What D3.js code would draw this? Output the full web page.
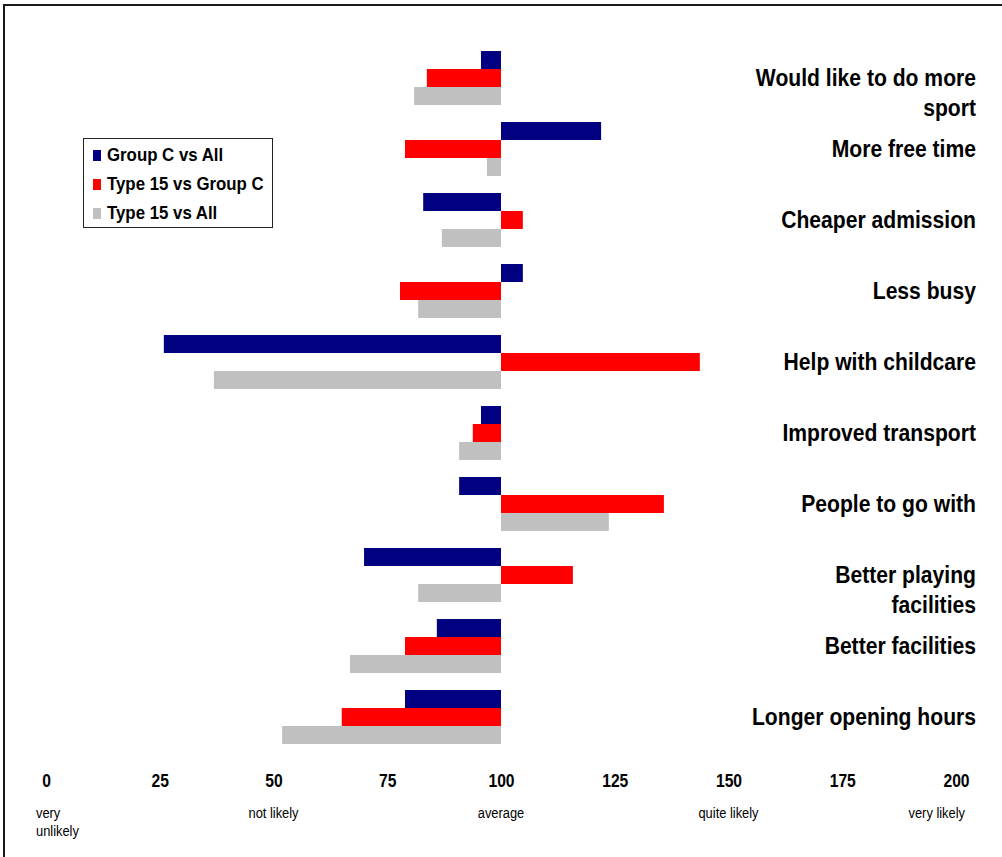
<!DOCTYPE html>
<html lang="en">
<head>
  <meta charset="UTF-8">
  <title>Reasons to do more sport</title>
  <script src="https://cdn.jsdelivr.net/npm/d3@7"></script>
  <style>
    body { margin: 0; background: #fff; }
    svg text { font-family: "Liberation Sans", Arial, sans-serif; fill: #000; }
    .cat { font-size: 22px; font-weight: bold; }
    .tick-lbl { font-size: 18px; font-weight: bold; }
    .note { font-size: 14px; }
    .legend text { font-size: 17px; font-weight: bold; }
  </style>
</head>
<body>
  <svg width="1002" height="857"></svg>
  <script>
    // categories, top to bottom
    var categories = [
      'Would like to do more sport',
      'More free time',
      'Cheaper admission',
      'Less busy',
      'Help with childcare',
      'Improved transport',
      'People to go with',
      'Better playing facilities',
      'Better facilities',
      'Longer opening hours'
    ];
    // wrapped label lines (same order)
    var catLines = [
      ['Would like to do more', 'sport'],
      ['More free time'],
      ['Cheaper admission'],
      ['Less busy'],
      ['Help with childcare'],
      ['Improved transport'],
      ['People to go with'],
      ['Better playing', 'facilities'],
      ['Better facilities'],
      ['Longer opening hours']
    ];
    var seriesNames = ['Group C vs All', 'Type 15 vs Group C', 'Type 15 vs All'];
    var groupCvsAll   = [95.6, 122, 82.9, 104.8, 25.9, 95.6, 90.8, 69.9, 85.9, 78.9];
    var type15vsGroupC = [83.7, 78.9, 104.8, 77.8, 143.7, 93.8, 135.8, 115.8, 78.9, 65];
    var type15vsAll   = [80.9, 96.9, 87, 81.8, 36.9, 90.8, 123.7, 81.8, 66.8, 51.9];
    var tickValues = [0, 25, 50, 75, 100, 125, 150, 175, 200];
    var noteValues = [0, 50, 100, 150, 200];
    var noteTexts = [['very', 'unlikely'], ['not likely'], ['average'], ['quite likely'], ['very likely']];

    var colors = ['#000080', '#ff0000', '#c0c0c0'];
    var seriesValues = [groupCvsAll, type15vsGroupC, type15vsAll];

    var svg = d3.select('svg');

    // outer frame (right and bottom edges run off the picture)
    svg.append('rect')
      .attr('x', 4).attr('y', 5)
      .attr('width', 1010).attr('height', 870)
      .attr('fill', 'none')
      .attr('stroke', '#1a1a1a')
      .attr('stroke-width', 2);

    var xScale = d3.scaleLinear().domain([0, 200]).range([46, 956]);
    var yScale = d3.scaleBand()
      .domain(categories)
      .range([42.5, 752.5])
      .paddingInner(0.24)
      .paddingOuter(0.12);
    var ySub = d3.scaleBand()
      .domain(seriesNames)
      .range([0, yScale.bandwidth()]);

    var data = categories.map(function(c, i) {
      return {
        cat: c,
        lines: catLines[i],
        values: seriesNames.map(function(s, j) {
          return {key: s, color: colors[j], value: seriesValues[j][i]};
        })
      };
    });

    var group = svg.selectAll('.group')
      .data(data)
      .enter()
      .append('g')
      .attr('class', 'group')
      .attr('transform', function(d) { return 'translate(0,' + yScale(d.cat) + ')'; });

    group.selectAll('rect')
      .data(function(d) { return d.values; })
      .enter()
      .append('rect')
      .attr('x', function(d) { return Math.min(xScale(100), xScale(d.value)); })
      .attr('y', function(d) { return ySub(d.key); })
      .attr('width', function(d) { return Math.abs(xScale(d.value) - xScale(100)); })
      .attr('height', ySub.bandwidth())
      .attr('fill', function(d) { return d.color; });

    // category labels on the right, slightly condensed like the original
    var label = group.append('g')
      .attr('transform', 'translate(976,' + (yScale.bandwidth() / 2 + 8) + ') scale(0.96,1.05)');
    label.selectAll('text')
      .data(function(d) { return d.lines; })
      .enter()
      .append('text')
      .attr('class', 'cat')
      .attr('text-anchor', 'end')
      .attr('y', function(d, i) { return i * 29; })
      .text(function(d) { return d; });

    // x axis: labels only
    var axis = svg.append('g')
      .attr('transform', 'translate(0,774)')
      .call(d3.axisBottom(xScale).tickValues(tickValues).tickSize(0).tickPadding(0));
    axis.select('.domain').remove();
    axis.selectAll('.tick text')
      .attr('class', 'tick-lbl')
      .attr('font-family', null)
      .attr('font-size', null)
      .attr('fill', '#000')
      .attr('transform', 'scale(0.87,1.05)');

    // scale notes under the axis
    var note = svg.selectAll('.note-g')
      .data(noteValues)
      .enter()
      .append('g')
      .attr('class', 'note-g')
      .attr('transform', function(d, i) {
        var x = xScale(d);
        if (i === 0) x -= 10;
        if (i === noteValues.length - 1) x += 9;
        return 'translate(' + x + ',818) scale(0.92,1)';
      });
    note.selectAll('text')
      .data(function(d, i) {
        return noteTexts[i].map(function(t) {
          return {t: t, anchor: i === 0 ? 'start' : (i === noteValues.length - 1 ? 'end' : 'middle')};
        });
      })
      .enter()
      .append('text')
      .attr('class', 'note')
      .attr('text-anchor', function(d) { return d.anchor; })
      .attr('y', function(d, i) { return i * 18; })
      .text(function(d) { return d.t; });

    // legend
    var legend = svg.append('g').attr('class', 'legend');
    legend.append('rect')
      .attr('x', 83.5).attr('y', 138.5)
      .attr('width', 189).attr('height', 89)
      .attr('fill', '#fff')
      .attr('stroke', '#222')
      .attr('stroke-width', 1);
    var item = legend.selectAll('.item')
      .data(seriesNames)
      .enter()
      .append('g')
      .attr('class', 'item')
      .attr('transform', function(d, i) { return 'translate(0,' + (155 + i * 29) + ')'; });
    item.append('rect')
      .attr('x', 93).attr('y', -5)
      .attr('width', 8).attr('height', 11)
      .attr('fill', function(d, i) { return colors[i]; });
    item.append('g')
      .attr('transform', 'translate(107,6) scale(0.99,1.05)')
      .append('text')
      .text(function(d) { return d; });
  </script>
</body>
</html>
